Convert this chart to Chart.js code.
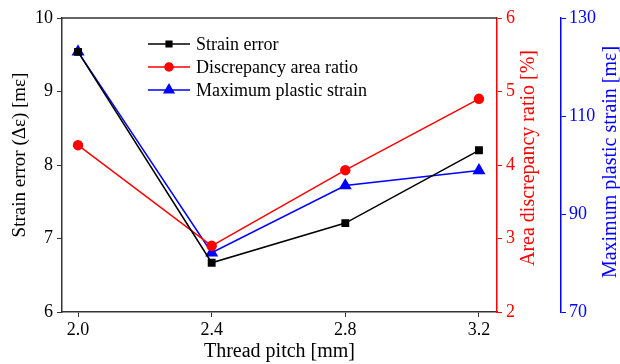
<!DOCTYPE html>
<html>
<head>
<meta charset="utf-8">
<script src="https://cdn.jsdelivr.net/npm/chart.js@4"></script>
<style>
  html, body { margin: 0; padding: 0; background: #fff; }
  #wrap { width: 620px; height: 364px; }
</style>
</head>
<body>
<div id="wrap"><canvas id="chart" width="620" height="364"></canvas></div>
<script>
// data
const pitch = [2.0, 2.4, 2.8, 3.2];
const strainError = [9.54, 6.67, 7.21, 8.20];      // m-epsilon, left axis
const areaRatio = [4.27, 2.90, 3.93, 4.90];         // %, red axis
const plasticStrain = [123.1, 82.1, 95.8, 98.9];    // m-epsilon, blue axis

const yTicks = [6, 7, 8, 9, 10];
const y1Ticks = [2, 3, 4, 5, 6];
const y2Ticks = [70, 90, 110, 130];

const serif = 'Liberation Serif';

const pts = (ys) => pitch.map((x, i) => ({ x: x, y: ys[i] }));

// legend drawn inside the plot, line + marker like the original
const insideLegend = {
  id: 'insideLegend',
  afterDraw(chart) {
    const ctx = chart.ctx;
    const a = chart.chartArea;
    const x0 = a.left + 86, y0 = a.top + 26, rowH = 23;
    ctx.save();
    chart.data.datasets.forEach((ds, i) => {
      const y = y0 + i * rowH;
      ctx.strokeStyle = ds.borderColor;
      ctx.lineWidth = 1.5;
      ctx.beginPath();
      ctx.moveTo(x0, y);
      ctx.lineTo(x0 + 42, y);
      ctx.stroke();
      Chart.helpers.drawPoint(ctx, {
        pointStyle: ds.pointStyle, radius: ds.pointRadius - 0.5, borderWidth: 1, rotation: 0
      }, x0 + 21, y);
      ctx.fillStyle = ds.backgroundColor;
      ctx.fill();
      ctx.fillStyle = '#000';
      ctx.font = '18px "' + serif + '"';
      ctx.textBaseline = 'middle';
      ctx.fillText(ds.label, x0 + 48, y + 1);
    });
    ctx.restore();
  }
};

// top border + y titles (all read bottom-to-top like the original)
const frameAndTitles = {
  id: 'frameAndTitles',
  beforeDatasetsDraw(chart) {
    const ctx = chart.ctx;
    const a = chart.chartArea;
    ctx.save();
    ctx.strokeStyle = '#333';
    ctx.lineWidth = 1.5;
    ctx.beginPath();
    ctx.moveTo(a.left, a.top);
    ctx.lineTo(a.right, a.top);
    ctx.stroke();

    const titles = [
      { text: 'Strain error (Δε) [mε]', color: '#000', size: 19, x: chart.scales.y.left + 18, y: 155 },
      { text: 'Area discrepancy ratio [%]', color: '#ff0000', size: 20, x: chart.scales.y1.left + 32, y: 158 },
      { text: 'Maximum plastic strain [mε]', color: '#0000ff', size: 20, x: chart.scales.y2.left + 50, y: 162 }
    ];
    ctx.textAlign = 'center';
    ctx.textBaseline = 'middle';
    titles.forEach(t => {
      ctx.save();
      ctx.translate(t.x, t.y);
      ctx.rotate(-Math.PI / 2);
      ctx.font = t.size + 'px "' + serif + '"';
      ctx.fillStyle = t.color;
      ctx.fillText(t.text, 0, 0);
      ctx.restore();
    });
    ctx.restore();
  }
};

const fixedTicks = (vals) => (scale) => { scale.ticks = vals.map(v => ({ value: v })); };

new Chart(document.getElementById('chart'), {
  type: 'line',
  data: {
    datasets: [
      {
        label: 'Strain error',
        data: pts(strainError),
        yAxisID: 'y',
        borderColor: '#000',
        backgroundColor: '#000',
        pointStyle: 'rect',
        pointRadius: 4.5,
        borderWidth: 1.5
      },
      {
        label: 'Discrepancy area ratio',
        data: pts(areaRatio),
        yAxisID: 'y1',
        borderColor: '#ff0000',
        backgroundColor: '#ff0000',
        pointStyle: 'circle',
        pointRadius: 4.5,
        borderWidth: 1.5
      },
      {
        label: 'Maximum plastic strain',
        data: pts(plasticStrain),
        yAxisID: 'y2',
        borderColor: '#0000ff',
        backgroundColor: '#0000ff',
        pointStyle: 'triangle',
        pointRadius: 6,
        borderWidth: 1.5
      }
    ]
  },
  options: {
    responsive: false,
    animation: false,
    layout: { padding: { top: 18, left: 2, right: 0, bottom: 0 } },
    plugins: { legend: { display: false }, tooltip: { enabled: false } },
    scales: {
      x: {
        type: 'linear',
        min: 1.952,
        max: 3.254,
        afterBuildTicks: fixedTicks(pitch),
        afterFit(s) { s.height = 52; },
        border: { color: '#333', width: 1.5 },
        grid: { drawOnChartArea: false, tickLength: 5, color: '#333' },
        ticks: {
          color: '#000', padding: 2,
          font: { family: serif, size: 18 },
          callback: (v) => v.toFixed(1)
        },
        title: {
          display: true, text: 'Thread pitch [mm]', color: '#000',
          font: { family: serif, size: 20 }, padding: { top: 0, bottom: 0 }
        }
      },
      y: {
        position: 'left',
        min: 6, max: 10,
        afterBuildTicks: fixedTicks(yTicks),
        afterFit(s) { s.width = 60; },
        border: { color: '#333', width: 1.5 },
        grid: { drawOnChartArea: false, tickLength: 5, color: '#333' },
        ticks: { color: '#000', padding: 4, font: { family: serif, size: 18 } }
      },
      y1: {
        position: 'right',
        min: 2, max: 6,
        afterBuildTicks: fixedTicks(y1Ticks),
        afterFit(s) { s.width = 64; },
        border: { color: '#ff0000', width: 1.5 },
        grid: { drawOnChartArea: false, tickLength: 5, color: '#ff0000' },
        ticks: { color: '#ff0000', padding: 4, font: { family: serif, size: 18 } }
      },
      y2: {
        position: 'right',
        min: 70, max: 130,
        afterBuildTicks: fixedTicks(y2Ticks),
        afterFit(s) { s.width = 59; },
        border: { color: '#0000ff', width: 1.5 },
        grid: { drawOnChartArea: false, tickLength: 5, color: '#0000ff' },
        ticks: { color: '#0000ff', padding: 3, font: { family: serif, size: 18 } }
      }
    }
  },
  plugins: [frameAndTitles, insideLegend]
});
</script>
</body>
</html>
